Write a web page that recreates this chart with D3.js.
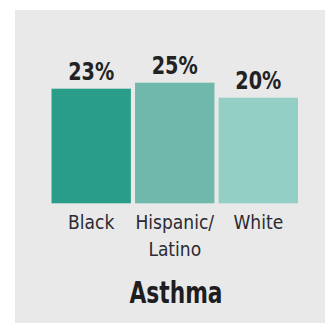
<!DOCTYPE html>
<html><head><meta charset="utf-8">
<script src="https://cdn.jsdelivr.net/npm/d3@7"></script>
<style>html,body{margin:0;padding:0;background:#fff;}svg{display:block;}</style>
</head><body>
<script>
const categories = [["Black"], ["Hispanic/", "Latino"], ["White"]];
const values = [23, 25, 20];
const valueLabels = ["23%", "25%", "20%"];
const colors = ["#2a9d8a", "#6fb8ab", "#93cfc4"];
const title = "Asthma";

const W = 325, H = 324;
const svg = d3.select("body").append("svg").attr("width", W).attr("height", H);
svg.append("rect").attr("x", 15).attr("y", 10).attr("width", 310).attr("height", 313).attr("fill", "#e9e9e9");

const font = "'Liberation Sans Narrow','DejaVu Sans Condensed',Arial,sans-serif";
const x = d3.scaleBand().domain(d3.range(values.length)).range([51.5, 298]).paddingInner(0.05).paddingOuter(0);
const y = d3.scaleLinear().domain([-15.2, 25]).range([203.3, 82.7]);

svg.selectAll("rect.bar").data(values).join("rect").attr("class", "bar")
  .attr("x", (d, i) => x(i)).attr("width", x.bandwidth())
  .attr("y", d => y(d)).attr("height", d => y(-15.2) - y(d))
  .attr("fill", (d, i) => colors[i]);

svg.selectAll("text.val").data(values).join("text").attr("class", "val")
  .attr("x", (d, i) => x(i) + x.bandwidth() / 2).attr("y", d => y(d) - 8.5)
  .attr("text-anchor", "middle").attr("font-family", font).attr("font-weight", "bold")
  .attr("font-size", 24).attr("fill", "#222")
  .attr("textLength", 46).attr("lengthAdjust", "spacingAndGlyphs")
  .text((d, i) => valueLabels[i]);

categories.forEach((lines, i) => {
  lines.forEach((ln, j) => {
    svg.append("text").attr("x", x(i) + x.bandwidth() / 2).attr("y", 228.5 + j * 27)
      .attr("text-anchor", "middle").attr("font-family", font).attr("font-size", 19).attr("fill", "#2a2a33")
      .text(ln);
  });
});

svg.append("text").attr("x", 176).attr("y", 303).attr("text-anchor", "middle")
  .attr("font-family", font).attr("font-weight", "bold").attr("font-size", 30).attr("fill", "#1e1e22")
  .attr("textLength", 93).attr("lengthAdjust", "spacingAndGlyphs")
  .text(title);
</script>
</body></html>
